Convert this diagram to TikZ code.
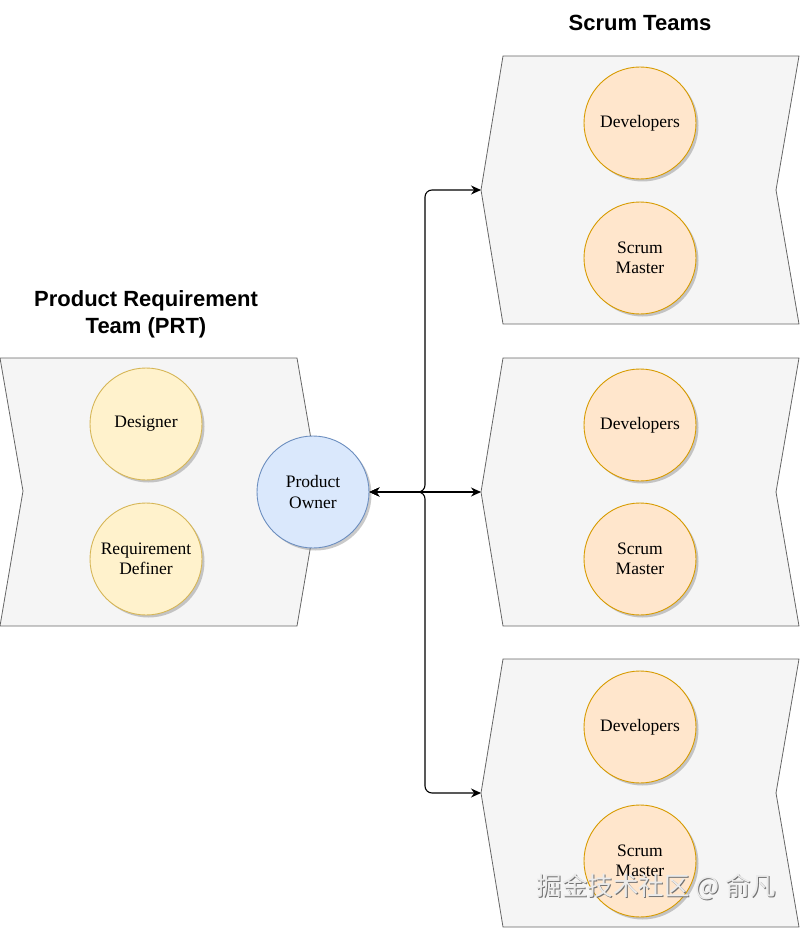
\documentclass[tikz,border=0pt]{standalone}
\usepackage{fontspec}
\setmainfont{Liberation Serif}
\newfontfamily\titlefont{Liberation Sans}
\newfontfamily\cjkfont{Noto Sans CJK SC}
\usetikzlibrary{arrows.meta,shadows}
\definecolor{yfill}{HTML}{FFF2CC}\definecolor{ydraw}{HTML}{D6B656}
\definecolor{ofill}{HTML}{FFE6CC}\definecolor{odraw}{HTML}{D79B00}
\definecolor{bfill}{HTML}{DAE8FC}\definecolor{bdraw}{HTML}{6C8EBF}
\definecolor{sfill}{HTML}{F5F5F5}\definecolor{sdraw}{HTML}{666666}
\tikzset{
  stepshape/.style={fill=sfill, draw=sdraw, line width=0.8pt},
  role/.style={circle, minimum size=112pt, inner sep=0pt, align=center,
    line width=0.9pt, font=\fontsize{17.5}{20.5}\selectfont,
    drop shadow={shadow xshift=2.5pt, shadow yshift=-2.5pt, opacity=0.35, fill=black!60}},
  yrole/.style={role, fill=yfill, draw=ydraw},
  orole/.style={role, fill=ofill, draw=odraw},
  brole/.style={role, fill=bfill, draw=bdraw},
  conn/.style={line width=1.1pt, rounded corners=7pt, {Stealth[length=10pt,width=9pt]}-{Stealth[length=10pt,width=9pt]}},
  ttl/.style={font=\titlefont\bfseries\fontsize{22}{27}\selectfont, align=center}
}
\begin{document}
\begin{tikzpicture}[x=1pt,y=-1pt]
\useasboundingbox (0,0) rectangle (800,928);
% PRT step shape
\draw[stepshape] (0,358) -- (297,358) -- (320,491) -- (297,626) -- (0,626) -- (23,491) -- cycle;
% Scrum team step shapes
\foreach \t in {56,358,659}{
  \draw[stepshape] (503,\t) -- (799,\t) -- (776,\t+134) -- (799,\t+268) -- (503,\t+268) -- (481,\t+134) -- cycle;
}
% titles
\node[ttl] (prtTitle) at (146,314) {Product Requirement\\Team (PRT)};
\node[ttl] (stTitle) at (640,23) {Scrum Teams};
% PRT roles
\node[yrole] (designer) at (146,424) {Designer};
\node[yrole] (reqdef) at (146,559) {Requirement\\Definer};
% Product owner
\node[brole] (po) at (313,492) {Product\\Owner};
% Scrum teams roles
\node[orole] (dev1) at (640,123) {Developers};
\node[orole] (sm1) at (640,258) {Scrum\\Master};
\node[orole] (dev2) at (640,425) {Developers};
\node[orole] (sm2) at (640,559) {Scrum\\Master};
\node[orole] (dev3) at (640,727) {Developers};
\node[orole] (sm3) at (640,861) {Scrum\\Master};
% connectors
\coordinate (j) at (425,492);
\coordinate (t1) at (481,190);
\coordinate (t2) at (481,492);
\coordinate (t3) at (481,793);
\draw[conn] (po.east) -- (j) |- (t1);
\draw[conn] (po.east) -- (t2);
\draw[conn] (po.east) -- (j) |- (t3);
% watermark
\node[font=\cjkfont\fontsize{25.5}{28}\selectfont, text=black!55] (wm0) at (657.5,887.5) {掘金技术社区 @ 俞凡};
\node[font=\cjkfont\fontsize{25.5}{28}\selectfont, text=white!92!black] (wm) at (656.5,886.5) {掘金技术社区 @ 俞凡};
\end{tikzpicture}
\end{document}
